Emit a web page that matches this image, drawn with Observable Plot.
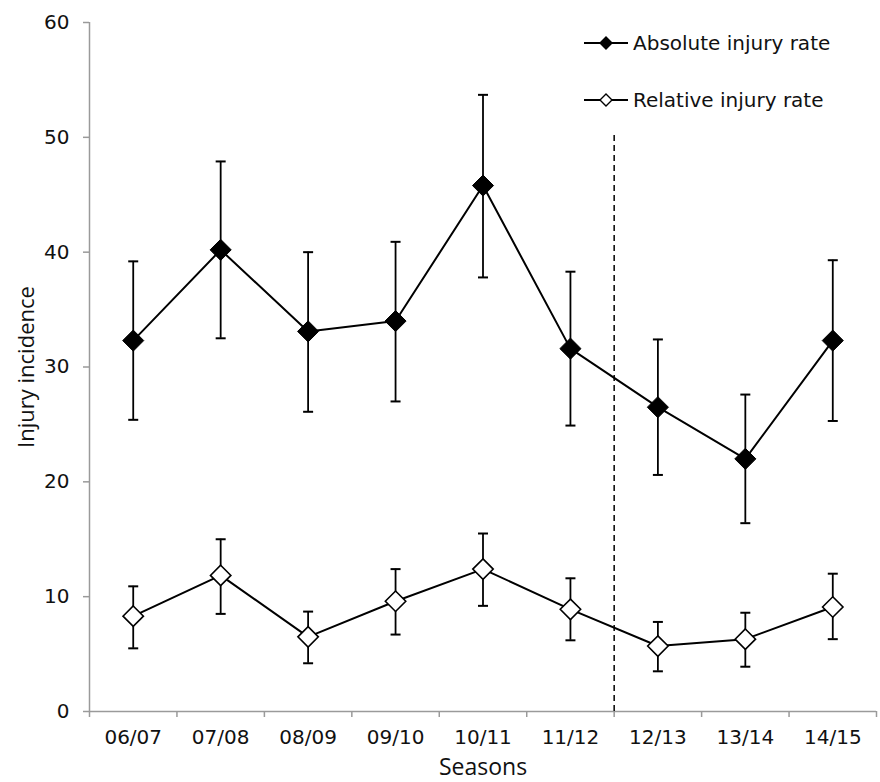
<!DOCTYPE html>
<html>
<head>
<meta charset="utf-8">
<script src="https://cdn.jsdelivr.net/npm/d3@7"></script>
<script src="https://cdn.jsdelivr.net/npm/@observablehq/plot@0.6"></script>
<style>
  html, body { margin: 0; padding: 0; background: #fff; }
  #wrap { position: relative; width: 880px; height: 782px; }
  #legend { position: absolute; left: 583px; top: 0; font-family: "DejaVu Sans", sans-serif; font-size: 20px; color: #111; }
  .item { position: absolute; left: 0; white-space: nowrap; display: flex; align-items: center; height: 24px; }
  .item svg { display: block; margin-right: 4px; }
</style>
</head>
<body>
<div id="wrap"><div id="legend"></div></div>
<script>
const seasons = ["06/07", "07/08", "08/09", "09/10", "10/11", "11/12", "12/13", "13/14", "14/15"];
const absMean = [32.3, 40.2, 33.1, 34.0, 45.8, 31.6, 26.5, 22.0, 32.3];
const absLow  = [25.4, 32.5, 26.1, 27.0, 37.8, 24.9, 20.6, 16.4, 25.3];
const absHigh = [39.2, 47.9, 40.0, 40.9, 53.7, 38.3, 32.4, 27.6, 39.3];
const relMean = [8.3, 11.85, 6.5, 9.6, 12.4, 8.9, 5.7, 6.3, 9.1];
const relLow  = [5.5, 8.5, 4.2, 6.7, 9.2, 6.2, 3.5, 3.9, 6.3];
const relHigh = [10.9, 15.0, 8.7, 12.4, 15.5, 11.6, 7.8, 8.6, 12.0];
const yTicks = [0, 10, 20, 30, 40, 50, 60];
const seriesNames = ["Absolute injury rate", "Relative injury rate"];
const dividerAfter = "11/12";
const dividerTop = 50.5;

const absData = seasons.map((s, i) => ({i, season: s, mean: absMean[i], low: absLow[i], high: absHigh[i]}));
const relData = seasons.map((s, i) => ({i, season: s, mean: relMean[i], low: relLow[i], high: relHigh[i]}));
const boundaries = d3.range(seasons.length + 1).map(i => i - 0.5);
const dividerX = seasons.indexOf(dividerAfter) + 0.5;

const capSymbol = { draw(context, size) { const w = Math.sqrt(size / Math.PI); context.moveTo(-w, 0); context.lineTo(w, 0); } };
const axisGray = "#9a9a9a";

function errorBars(data) {
  return [
    Plot.ruleX(data, {x: "i", y1: "low", y2: "high", stroke: "#000", strokeWidth: 1.8}),
    Plot.dot(data, {x: "i", y: "low", symbol: capSymbol, r: 5, stroke: "#000", strokeWidth: 2, fill: "none"}),
    Plot.dot(data, {x: "i", y: "high", symbol: capSymbol, r: 5, stroke: "#000", strokeWidth: 2, fill: "none"})
  ];
}

const chart = Plot.plot({
  width: 880,
  height: 782,
  marginLeft: 89,
  marginRight: 4,
  marginTop: 22,
  marginBottom: 71,
  style: {fontFamily: "DejaVu Sans", fontSize: "19px", color: "#111", background: "#fff", overflow: "visible"},
  x: {type: "linear", domain: [-0.5, seasons.length - 0.5], axis: null},
  y: {domain: [0, 60], axis: null},
  marks: [
    Plot.ruleY([0], {stroke: axisGray, strokeWidth: 1.5}),
    Plot.ruleX([-0.5], {y1: 0, y2: 60, stroke: axisGray, strokeWidth: 1.5}),
    Plot.axisX({ticks: boundaries, tickFormat: () => "", tickSize: 6, stroke: axisGray, strokeWidth: 1.5, label: null}),
    Plot.axisX({ticks: d3.range(seasons.length), tickFormat: i => seasons[i], tickSize: 0, tickPadding: 18, fontSize: 20, fontFamily: "DejaVu Sans", label: null}),
    Plot.axisY({ticks: yTicks, tickSize: 6, tickPadding: 14, stroke: axisGray, strokeWidth: 1.5, fontSize: 20, fontFamily: "DejaVu Sans", label: null}),
    Plot.text(["Seasons"], {frameAnchor: "bottom", lineAnchor: "bottom", textAnchor: "middle", dy: 63, fontSize: 23, fontFamily: "Open Sans", fill: "#111"}),
    Plot.text(["Injury incidence"], {frameAnchor: "left", textAnchor: "middle", lineAnchor: "middle", dx: -63, rotate: -90, fontSize: 22, fontFamily: "Open Sans", fill: "#111"}),
    Plot.ruleX([dividerX], {y1: 0, y2: dividerTop, stroke: "#000", strokeWidth: 1.5, strokeDasharray: "6,4"}),
    ...errorBars(absData),
    ...errorBars(relData),
    Plot.line(absData, {x: "i", y: "mean", stroke: "#000", strokeWidth: 2}),
    Plot.line(relData, {x: "i", y: "mean", stroke: "#000", strokeWidth: 2}),
    Plot.dot(absData, {x: "i", y: "mean", symbol: "diamond2", r: 9.5, fill: "#000", stroke: "#000", strokeWidth: 1}),
    Plot.dot(relData, {x: "i", y: "mean", symbol: "diamond2", r: 9.2, fill: "#fff", stroke: "#000", strokeWidth: 1.6})
  ]
});
document.getElementById("wrap").prepend(chart);

const legend = document.getElementById("legend");
const tops = [31, 88];
seriesNames.forEach((name, k) => {
  const item = document.createElement("div");
  item.className = "item";
  item.style.top = tops[k] + "px";
  const filled = k === 0;
  item.innerHTML = `<svg width="46" height="24" viewBox="0 0 46 24">
    <line x1="1" y1="12" x2="45" y2="12" stroke="#000" stroke-width="2"/>
    <path d="M23,6 L29,12 L23,18 L17,12 Z" fill="${filled ? "#000" : "#fff"}" stroke="#000" stroke-width="1.4"/>
  </svg><span>${name}</span>`;
  legend.appendChild(item);
});
</script>
</body>
</html>
